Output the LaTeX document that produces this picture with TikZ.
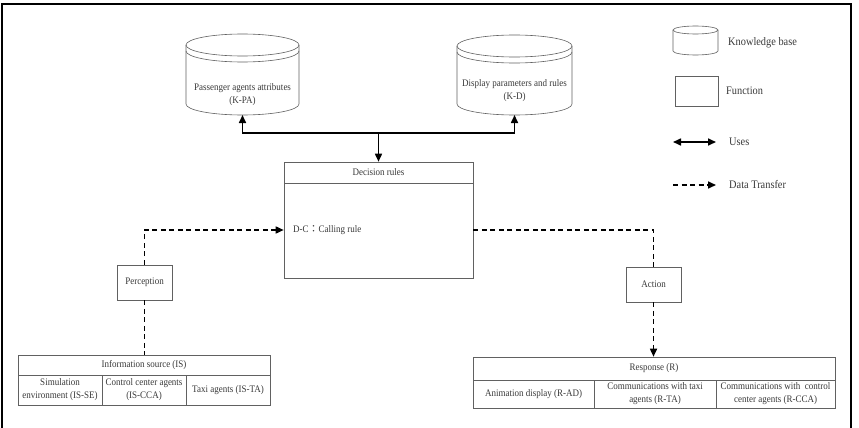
\documentclass[tikz,border=0pt]{standalone}
\usepackage{fontspec}
\setmainfont[FakeStretch=0.9]{Liberation Serif}
\newfontfamily\cjk{Noto Sans CJK TC}
\usetikzlibrary{arrows.meta}
\definecolor{linec}{gray}{0.38}
\definecolor{txtc}{gray}{0.22}
\tikzset{
 box/.style={draw=linec, line width=0.6pt, inner sep=1pt, align=center, text=txtc, font=\fontsize{10}{13}\selectfont},
 plain/.style={inner sep=0pt, align=center, text=txtc, font=\fontsize{10}{13}\selectfont},
 legtxt/.style={inner sep=0pt, anchor=west, text=txtc, font=\fontsize{11.5}{13}\selectfont},
 uses/.style={line width=1.6pt, draw=black, {Triangle[length=8pt,width=7pt]}-{Triangle[length=8pt,width=7pt]}},
 useone/.style={line width=1.6pt, draw=black, -{Triangle[length=8pt,width=7pt]}},
 transfer/.style={line width=1.6pt, draw=black, dash pattern=on 5pt off 3.5pt, -{Triangle[length=8pt,width=7pt]}},
 transfernone/.style={line width=1.6pt, draw=black, dash pattern=on 5pt off 3.5pt},
 cyl/.style={draw=linec, line width=0.6pt},
}
\begin{document}
\begin{tikzpicture}[x=1pt,y=1pt]
\useasboundingbox (0,0) rectangle (859,-428);
% outer frame
\draw[line width=2pt] (1.5,-428) -- (1.5,-4.5) -- (851,-4.5) -- (851,-428);

% cylinder K-PA
\draw[cyl] (242.5,-45) ellipse [x radius=56.5, y radius=11];
\draw[cyl] (186,-51) arc [start angle=180, end angle=360, x radius=56.5, y radius=11];
\draw[cyl] (186,-45) -- (186,-104) arc [start angle=180, end angle=360, x radius=56.5, y radius=11] -- (299,-45);
\node[plain] (kpa) at (242.5,-94.5) {Passenger agents attributes\\(K-PA)};
\coordinate (kpab) at (242.5,-115);

% cylinder K-D
\draw[cyl] (514.5,-46) ellipse [x radius=57.5, y radius=11];
\draw[cyl] (457,-52) arc [start angle=180, end angle=360, x radius=57.5, y radius=11];
\draw[cyl] (457,-46) -- (457,-104) arc [start angle=180, end angle=360, x radius=57.5, y radius=11] -- (572,-46);
\node[plain] (kd) at (514.5,-90.5) {Display parameters and rules\\(K-D)};
\coordinate (kdb) at (514.5,-115);

% decision rules
\node[box, minimum width=189pt, minimum height=21pt] (dechead) at (378.5,-172.5) {Decision rules};
\node[box, minimum width=189pt, minimum height=95pt] (dec) at (378.5,-230.5) {};
\node[plain, anchor=west] (dc) at (293,-230) {D-C{\cjk ：}Calling rule};

\coordinate (hub) at (378.5,-133);
\draw[uses] (kpab) -- (kpab |- hub) -- (kdb |- hub) -- (kdb);
\draw[useone] (hub) -- (dechead.north);

% perception
\node[box, minimum width=55pt, minimum height=35pt] (perc) at (144.5,-282.5) {Perception};
% information source table
\node[box, minimum width=252pt, minimum height=20pt] (ish) at (144,-365) {Information source (IS)};
\node[box, minimum width=84pt, minimum height=30pt] (is1) at (60,-390) {Simulation\\environment (IS-SE)};
\node[box, minimum width=84pt, minimum height=30pt] (is2) at (144,-390) {Control center agents\\(IS-CCA)};
\node[box, minimum width=84pt, minimum height=30pt] (is3) at (228,-390) {Taxi agents (IS-TA)};

\draw[transfer] (perc.north) |- (dec.west |- dc.west);
\draw[transfernone] (perc.south) -- (perc.south |- ish.north);

% action
\node[box, minimum width=55pt, minimum height=35pt] (act) at (653.5,-284.5) {Action};
% response table
\node[box, minimum width=362pt, minimum height=23pt] (rh) at (654,-368.5) {Response (R)};
\node[box, minimum width=121pt, minimum height=28pt] (r1) at (533.5,-394) {Animation display (R-AD)};
\node[box, minimum width=122pt, minimum height=28pt] (r2) at (655,-394) {Communications with taxi\\agents (R-TA)};
\node[box, minimum width=119pt, minimum height=28pt] (r3) at (775.5,-394) {Communications with\ \ control\\center agents (R-CCA)};

\draw[transfernone] (dec.east |- dc.west) -| (act.north);
\draw[transfer] (act.south) -- (act.south |- rh.north);

% legend
\draw[cyl] (695.5,-30) ellipse [x radius=22.5, y radius=4];
\draw[cyl] (673,-30) -- (673,-51) arc [start angle=180, end angle=360, x radius=22.5, y radius=4] -- (718,-30);
\node[legtxt] (lkb) at (728,-43) {Knowledge base};
\node[box, minimum width=43pt, minimum height=30pt] (lfbox) at (696.5,-91) {};
\node[legtxt] (lfn) at (726,-91) {Function};
\coordinate (lu1) at (673,-142);
\coordinate (lu2) at (716,-142);
\draw[uses] (lu1) -- (lu2);
\node[legtxt] (luses) at (729,-142) {Uses};
\coordinate (ld1) at (673,-185);
\coordinate (ld2) at (716,-185);
\draw[transfer] (ld1) -- (ld2);
\node[legtxt] (ldt) at (729,-185) {Data Transfer};
\end{tikzpicture}
\end{document}
